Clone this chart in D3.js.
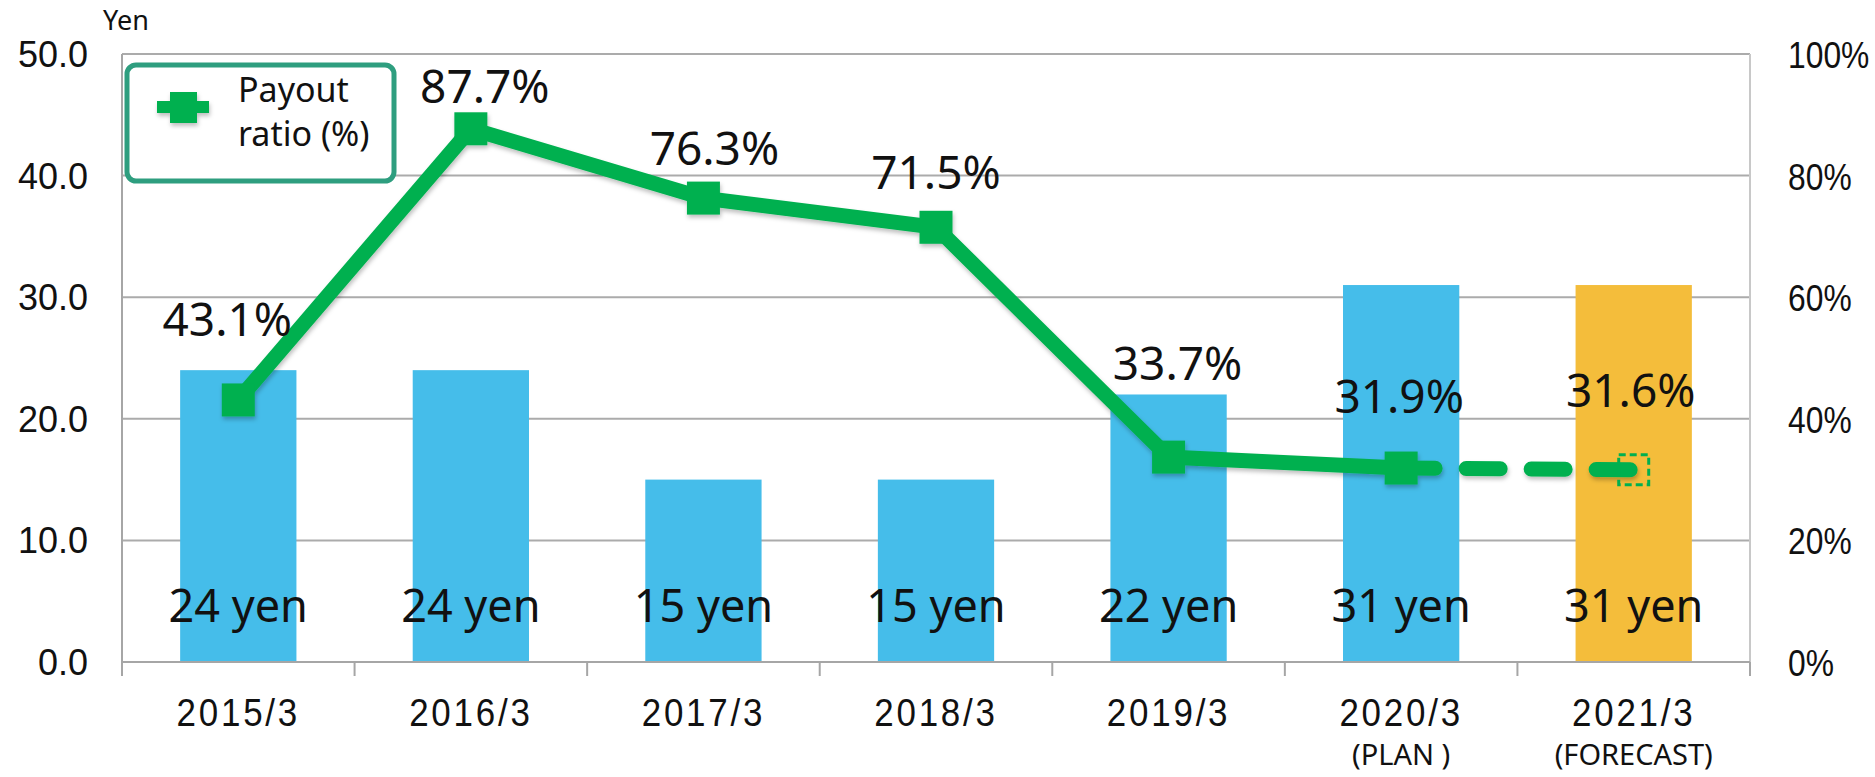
<!DOCTYPE html>
<html>
<head>
<meta charset="utf-8">
<script src="https://cdn.jsdelivr.net/npm/d3@7"></script>
<style>
  html, body { margin: 0; padding: 0; background: #fff; }
  svg text { fill: #111; }
</style>
</head>
<body>
<div id="chart"></div>
<script>
// data
const categories = ["2015/3", "2016/3", "2017/3", "2018/3", "2019/3", "2020/3", "2021/3"];
const subLabels = ["", "", "", "", "", "(PLAN )", "(FORECAST)"];
const dividends = [24, 24, 15, 15, 22, 31, 31];
const payoutRatio = [43.1, 87.7, 76.3, 71.5, 33.7, 31.9, 31.6];
const forecastIndex = 6;
const leftTicks = [0, 10, 20, 30, 40, 50];
const rightTicks = [0, 20, 40, 60, 80, 100];

// hand-placed label nudges, like in the original (px)
const pctLabelDx = [-11, 14, 11, 0, 9, -2, -3];
const pctLabelRise = [64, 26, 33, 38, 77, 55, 63];

const width = 1875, height = 777;
const margin = { top: 54, right: 125, bottom: 115, left: 122 };

const svg = d3.select("#chart").append("svg")
  .attr("width", width)
  .attr("height", height);

const defs = svg.append("defs");
defs.append("filter").attr("id", "shadow")
  .attr("x", "-20%").attr("y", "-20%").attr("width", "140%").attr("height", "140%")
  .append("feDropShadow")
  .attr("dx", 1).attr("dy", 3).attr("stdDeviation", 2)
  .attr("flood-color", "#000").attr("flood-opacity", 0.25);

const x = d3.scaleBand()
  .domain(categories)
  .range([margin.left, width - margin.right])
  .paddingInner(0.5)
  .paddingOuter(0.25);

const xOuter = d3.scaleBand()
  .domain(categories)
  .range([margin.left, width - margin.right]);

const yLeft = d3.scaleLinear().domain([0, 50]).range([height - margin.bottom, margin.top]);
const yRight = d3.scaleLinear().domain([0, 100]).range([height - margin.bottom, margin.top]);

// gridlines
svg.append("g")
  .selectAll("line")
  .data(leftTicks.filter(d => d > 0))
  .enter()
  .append("line")
  .attr("x1", margin.left)
  .attr("x2", width - margin.right)
  .attr("y1", d => yLeft(d))
  .attr("y2", d => yLeft(d))
  .attr("stroke", "#ababab")
  .attr("stroke-width", 2);

// bars
svg.append("g")
  .selectAll("rect")
  .data(dividends)
  .enter()
  .append("rect")
  .attr("x", (d, i) => x(categories[i]))
  .attr("width", x.bandwidth())
  .attr("y", d => yLeft(d))
  .attr("height", d => yLeft(0) - yLeft(d))
  .attr("fill", (d, i) => i === forecastIndex ? "#F4BD3B" : "#45BDEA");

// bar labels
svg.append("g")
  .selectAll("text")
  .data(dividends)
  .enter()
  .append("text")
  .attr("x", (d, i) => x(categories[i]) + x.bandwidth() / 2)
  .attr("y", yLeft(0) - 40)
  .attr("text-anchor", "middle")
  .style("font-family", "'Noto Sans', sans-serif")
  .style("font-size", "45px")
  .text(d => d + " yen");

// axes lines
const axisColor = "#a6a6a6";
svg.append("line")
  .attr("x1", margin.left).attr("x2", margin.left)
  .attr("y1", margin.top).attr("y2", yLeft(0))
  .attr("stroke", axisColor).attr("stroke-width", 2);
svg.append("line")
  .attr("x1", width - margin.right).attr("x2", width - margin.right)
  .attr("y1", margin.top).attr("y2", yLeft(0))
  .attr("stroke", "#c8c8c8").attr("stroke-width", 2);

// x axis with tick marks at band edges
const xAxis = svg.append("g")
  .attr("transform", "translate(0," + yLeft(0) + ")");
xAxis.append("line")
  .attr("x1", margin.left).attr("x2", width - margin.right)
  .attr("stroke", axisColor).attr("stroke-width", 2);
xAxis.selectAll(".tk")
  .data(categories.concat(["__end"]))
  .enter()
  .append("line")
  .attr("x1", (d, i) => i < categories.length ? xOuter(d) : width - margin.right)
  .attr("x2", (d, i) => i < categories.length ? xOuter(d) : width - margin.right)
  .attr("y1", 0).attr("y2", 14)
  .attr("stroke", axisColor).attr("stroke-width", 2);

xAxis.selectAll(".cat")
  .data(categories)
  .enter()
  .append("text")
  .attr("transform", d => "translate(" + (x(d) + x.bandwidth() / 2) + ",64) scale(0.92,1)")
  .attr("text-anchor", "middle")
  .style("font-family", "'Liberation Sans', Arial, sans-serif")
  .style("font-size", "38px")
  .style("letter-spacing", "3px")
  .text(d => d);

xAxis.selectAll(".sub")
  .data(subLabels)
  .enter()
  .append("text")
  .attr("x", (d, i) => x(categories[i]) + x.bandwidth() / 2)
  .attr("y", 103)
  .attr("text-anchor", "middle")
  .style("font-family", "'Noto Sans', sans-serif")
  .style("font-size", "29px")
  .text(d => d);

// left tick labels
svg.append("g")
  .selectAll("text")
  .data(leftTicks)
  .enter()
  .append("text")
  .attr("x", margin.left - 34)
  .attr("y", d => yLeft(d) + 13)
  .attr("text-anchor", "end")
  .style("font-family", "'Liberation Sans', Arial, sans-serif")
  .style("font-size", "36px")
  .text(d => d3.format(".1f")(d));

// right tick labels
svg.append("g")
  .selectAll("text")
  .data(rightTicks)
  .enter()
  .append("text")
  .attr("transform", d => "translate(" + (width - margin.right + 38) + "," + (yRight(d) + 14) + ") scale(0.86,1)")
  .attr("text-anchor", "start")
  .style("font-family", "'Liberation Sans', Arial, sans-serif")
  .style("font-size", "37px")
  .text(d => d + "%");

// unit label
svg.append("text")
  .attr("x", 103)
  .attr("y", 30)
  .style("font-family", "'Noto Sans', sans-serif")
  .style("font-size", "27px")
  .text("Yen");

// payout ratio line
const green = "#00B050";
const cx = i => x(categories[i]) + x.bandwidth() / 2;
const line = d3.line()
  .x(d => cx(d.i))
  .y(d => yRight(d.v));

const pts = payoutRatio.map((v, i) => ({ v, i }));
const lineG = svg.append("g").attr("filter", "url(#shadow)");

lineG.append("path")
  .datum(pts.slice(0, forecastIndex))
  .attr("d", line)
  .attr("fill", "none")
  .attr("stroke", green)
  .attr("stroke-width", 15)
  .attr("stroke-linejoin", "miter");

lineG.append("path")
  .datum(pts.slice(forecastIndex - 1))
  .attr("d", line)
  .attr("fill", "none")
  .attr("stroke", green)
  .attr("stroke-width", 15)
  .attr("stroke-linecap", "round")
  .attr("stroke-dasharray", "34,31");

const mk = 33;
lineG.selectAll(".mk")
  .data(pts.slice(0, forecastIndex))
  .enter()
  .append("rect")
  .attr("x", d => cx(d.i) - mk / 2)
  .attr("y", d => yRight(d.v) - mk / 2)
  .attr("width", mk)
  .attr("height", mk)
  .attr("fill", green);

svg.append("rect")
  .datum(pts[forecastIndex])
  .attr("x", d => cx(d.i) - mk / 2 + 1.5)
  .attr("y", d => yRight(d.v) - mk / 2 + 1.5)
  .attr("width", mk - 3)
  .attr("height", mk - 3)
  .attr("fill", "none")
  .attr("stroke", green)
  .attr("stroke-width", 3)
  .attr("stroke-dasharray", "7,4");

// percentage labels
svg.append("g")
  .selectAll("text")
  .data(pts)
  .enter()
  .append("text")
  .attr("x", d => cx(d.i) + pctLabelDx[d.i])
  .attr("y", d => yRight(d.v) - pctLabelRise[d.i])
  .attr("text-anchor", "middle")
  .style("font-family", "'Noto Sans', sans-serif")
  .style("font-size", "46px")
  .text(d => d.v.toFixed(1) + "%");

// legend
const lg = svg.append("g");
lg.append("rect")
  .attr("x", 127).attr("y", 65)
  .attr("width", 267).attr("height", 116)
  .attr("rx", 9)
  .attr("fill", "#fff")
  .attr("stroke", "#2E9E7F")
  .attr("stroke-width", 5);
const lgSym = lg.append("g").attr("filter", "url(#shadow)");
lgSym.append("line")
  .attr("x1", 157).attr("x2", 209)
  .attr("y1", 107).attr("y2", 107)
  .attr("stroke", green).attr("stroke-width", 12);
lgSym.append("rect")
  .attr("x", 170).attr("y", 92)
  .attr("width", 27).attr("height", 31)
  .attr("fill", green);
lg.append("text")
  .attr("x", 238).attr("y", 102)
  .style("font-family", "'Noto Sans', sans-serif")
  .style("font-size", "34px")
  .text("Payout");
lg.append("text")
  .attr("x", 238).attr("y", 146)
  .style("font-family", "'Noto Sans', sans-serif")
  .style("font-size", "34px")
  .text("ratio (%)");
</script>
</body>
</html>
